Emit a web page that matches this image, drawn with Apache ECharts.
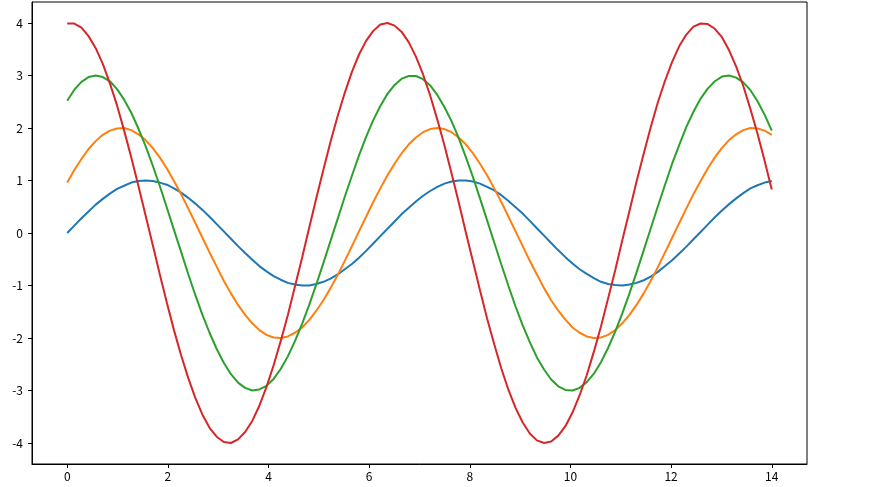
<!DOCTYPE html>
<html>
<head>
<meta charset="utf-8">
<script src="https://cdn.jsdelivr.net/npm/echarts@6/dist/echarts.min.js"></script>
<style>
html,body{margin:0;padding:0;background:#fff;}
#chart{width:874px;height:487px;}
</style>
</head>
<body>
<div id="chart"></div>
<script>
const xValues = [0,0.141,0.283,0.424,0.566,0.707,0.848,0.990,1.131,1.273,1.414,1.556,1.697,1.838,1.980,2.121,2.263,2.404,2.545,2.687,2.828,2.970,3.111,3.253,3.394,3.535,3.677,3.818,3.960,4.101,4.242,4.384,4.525,4.667,4.808,4.949,5.091,5.232,5.374,5.515,5.657,5.798,5.939,6.081,6.222,6.364,6.505,6.646,6.788,6.929,7.071,7.212,7.354,7.495,7.636,7.778,7.919,8.061,8.202,8.343,8.485,8.626,8.768,8.909,9.051,9.192,9.333,9.475,9.616,9.758,9.899,10.040,10.182,10.323,10.465,10.606,10.747,10.889,11.030,11.172,11.313,11.455,11.596,11.737,11.879,12.020,12.162,12.303,12.444,12.586,12.727,12.869,13.010,13.152,13.293,13.434,13.576,13.717,13.859,14.000];

const blueValues = [0.00,0.14,0.28,0.41,0.54,0.65,0.75,0.84,0.90,0.96,0.99,1.00,0.99,0.96,0.92,0.85,0.77,0.67,0.56,0.44,0.31,0.17,0.03,-0.11,-0.25,-0.38,-0.51,-0.63,-0.73,-0.82,-0.89,-0.95,-0.98,-1.00,-1.00,-0.97,-0.93,-0.87,-0.79,-0.69,-0.59,-0.47,-0.34,-0.20,-0.06,0.08,0.22,0.36,0.48,0.60,0.71,0.80,0.88,0.94,0.98,1.00,1.00,0.98,0.94,0.88,0.81,0.72,0.61,0.49,0.37,0.23,0.09,-0.05,-0.19,-0.33,-0.46,-0.58,-0.69,-0.78,-0.86,-0.93,-0.97,-0.99,-1.00,-0.98,-0.95,-0.90,-0.83,-0.74,-0.63,-0.52,-0.39,-0.26,-0.12,0.02,0.16,0.30,0.43,0.55,0.66,0.76,0.85,0.91,0.96,0.99];

const orangeValues = [0.96,1.20,1.41,1.60,1.75,1.87,1.95,1.99,2.00,1.96,1.88,1.77,1.62,1.44,1.23,0.99,0.74,0.47,0.19,-0.09,-0.37,-0.64,-0.91,-1.15,-1.37,-1.56,-1.72,-1.85,-1.94,-1.99,-2.00,-1.97,-1.90,-1.80,-1.66,-1.48,-1.28,-1.05,-0.80,-0.53,-0.25,0.03,0.31,0.59,0.85,1.10,1.32,1.52,1.69,1.82,1.92,1.98,2.00,1.98,1.92,1.82,1.69,1.52,1.32,1.10,0.85,0.59,0.31,0.03,-0.25,-0.53,-0.79,-1.05,-1.28,-1.48,-1.65,-1.80,-1.90,-1.97,-2.00,-1.99,-1.94,-1.85,-1.72,-1.56,-1.37,-1.15,-0.91,-0.65,-0.37,-0.09,0.19,0.47,0.74,0.99,1.23,1.44,1.62,1.77,1.88,1.96,2.00,1.99,1.95,1.87];

const greenValues = [2.52,2.73,2.88,2.97,3.00,2.97,2.89,2.74,2.54,2.29,1.99,1.66,1.29,0.90,0.48,0.06,-0.36,-0.78,-1.18,-1.56,-1.90,-2.21,-2.47,-2.69,-2.85,-2.95,-3.00,-2.98,-2.91,-2.78,-2.59,-2.35,-2.06,-1.73,-1.37,-0.98,-0.57,-0.15,0.27,0.69,1.09,1.48,1.83,2.15,2.42,2.65,2.82,2.94,2.99,2.99,2.93,2.81,2.63,2.40,2.13,1.81,1.45,1.07,0.66,0.24,-0.18,-0.60,-1.01,-1.40,-1.76,-2.08,-2.37,-2.60,-2.79,-2.92,-2.99,-3.00,-2.95,-2.84,-2.68,-2.46,-2.19,-1.88,-1.53,-1.15,-0.75,-0.33,0.09,0.51,0.92,1.32,1.68,2.02,2.31,2.56,2.75,2.89,2.98,3.00,2.96,2.87,2.72,2.51,2.25,1.95];

const redValues = [3.99,3.99,3.91,3.75,3.52,3.22,2.85,2.43,1.95,1.44,0.90,0.34,-0.22,-0.78,-1.33,-1.85,-2.33,-2.76,-3.14,-3.46,-3.71,-3.88,-3.98,-4.00,-3.93,-3.79,-3.58,-3.29,-2.93,-2.52,-2.06,-1.56,-1.02,-0.47,0.10,0.66,1.21,1.74,2.23,2.67,3.07,3.40,3.66,3.85,3.97,4.00,3.95,3.83,3.63,3.36,3.02,2.62,2.16,1.67,1.14,0.59,0.02,-0.54,-1.09,-1.63,-2.12,-2.58,-2.99,-3.33,-3.61,-3.82,-3.95,-4.00,-3.97,-3.86,-3.68,-3.42,-3.09,-2.71,-2.26,-1.78,-1.25,-0.71,-0.14,0.42,0.98,1.51,2.02,2.49,2.90,3.26,3.56,3.78,3.93,3.99,3.98,3.89,3.73,3.48,3.17,2.80,2.36,1.89,1.37,0.83];

const xTicks = [0,2,4,6,8,10,12,14];
const yTicks = [-4,-3,-2,-1,0,1,2,3,4];

const seriesList = [
  {name:'s0', values: blueValues, color:'#1f77b4'},
  {name:'s1', values: orangeValues, color:'#ff7f0e'},
  {name:'s2', values: greenValues, color:'#2ca02c'},
  {name:'s3', values: redValues, color:'#d62728'}
];

const font = '"Noto Sans CJK SC", "DejaVu Sans", sans-serif';
const chart = echarts.init(document.getElementById('chart'), null, {renderer:'canvas'});
chart.setOption({
  animation:false,
  backgroundColor:'#fff',
  grid:{left:32,right:67,top:2,bottom:23,show:true,borderColor:'#000',borderWidth:1,backgroundColor:'transparent'},
  xAxis:{
    type:'value', min:-0.7, max:14.7,
    axisLine:{show:true,onZero:false,lineStyle:{color:'#000',width:1}},
    axisTick:{show:true,length:4,inside:false,customValues:xTicks,lineStyle:{color:'#000'}},
    axisLabel:{show:true,customValues:xTicks,color:'#000',fontSize:12,fontFamily:font,margin:6},
    splitLine:{show:false}
  },
  yAxis:{
    type:'value', min:-4.4, max:4.4,
    axisLine:{show:true,onZero:false,lineStyle:{color:'#000',width:1}},
    axisTick:{show:true,length:4,inside:false,customValues:yTicks,lineStyle:{color:'#000'}},
    axisLabel:{show:true,customValues:yTicks,color:'#000',fontSize:12,fontFamily:font,margin:9},
    splitLine:{show:false}
  },
  series: seriesList.map(s => ({
    name:s.name, type:'line', showSymbol:false, symbol:'none',
    data: xValues.map((x,i)=>[x, s.values[i]]),
    lineStyle:{color:s.color,width:2},
    itemStyle:{color:s.color},
    clip:true
  }))
});
</script>
</body>
</html>
